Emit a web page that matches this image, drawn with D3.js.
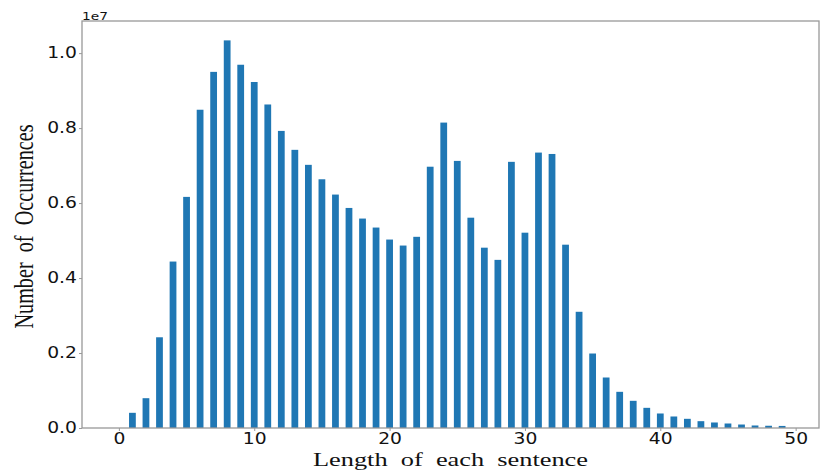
<!DOCTYPE html>
<html>
<head>
<meta charset="utf-8">
<script src="https://cdn.jsdelivr.net/npm/d3@7"></script>
<style>
  html, body { margin: 0; padding: 0; background: #fff; }
  svg { display: block; }
</style>
</head>
<body>
<div id="chart"></div>
<script>
// sentence length (words) and how often it occurs
const lengths = [0, 1, 2, 3, 4, 5, 6, 7, 8, 9, 10, 11, 12, 13, 14, 15, 16, 17, 18, 19,
  20, 21, 22, 23, 24, 25, 26, 27, 28, 29, 30, 31, 32, 33, 34, 35, 36, 37, 38, 39,
  40, 41, 42, 43, 44, 45, 46, 47, 48, 49];
const occurrences = [0, 405000, 795000, 2420000, 4440000, 6165000, 8490000, 9500000, 10340000, 9690000,
  9230000, 8630000, 7925000, 7420000, 7020000, 6635000, 6227000, 5870000, 5587000, 5347000,
  5027000, 4867000, 5100000, 6970000, 8147000, 7125000, 5610000, 4810000, 4485000, 7100000,
  5210000, 7347000, 7310000, 4890000, 3100000, 1987000, 1347000, 965000, 725000, 538000,
  387000, 307000, 245000, 182000, 147000, 120000, 93000, 67000, 60000, 55000];
const xTicks = [0, 10, 20, 30, 40, 50];
const yTicks = [0.0, 0.2, 0.4, 0.6, 0.8, 1.0]; // in units of 1e7

const W = 825, H = 476;
const mLeft = 82, mRight = 819, mTop = 21, mBottom = 428;
const barW = 0.5;
const stretch = 1.25; // the picture is wider than it is tall

const svg = d3.select("#chart").append("svg")
  .attr("width", W).attr("height", H);

// matplotlib style 5% margins
const xmin = d3.min(lengths) - barW / 2, xmax = d3.max(lengths) + barW / 2;
const xpad = (xmax - xmin) * 0.05;
const x = d3.scaleLinear().domain([xmin - xpad, xmax + xpad]).range([mLeft, mRight]);
const y = d3.scaleLinear().domain([0, d3.max(occurrences) * 1.05]).range([mBottom, mTop]);

svg.append("g")
  .selectAll("rect")
  .data(lengths)
  .enter()
  .append("rect")
  .attr("x", (d) => x(d - barW / 2))
  .attr("width", (d) => x(d + barW / 2) - x(d - barW / 2))
  .attr("y", (d, i) => y(occurrences[i]))
  .attr("height", (d, i) => y(0) - y(occurrences[i]))
  .attr("fill", "#1f77b4");

// axes
const xAxis = svg.append("g")
  .attr("transform", `translate(0,${mBottom})`)
  .call(d3.axisBottom(x).tickValues(xTicks).tickSize(3).tickPadding(2).tickFormat(d3.format("d")));

const yAxis = svg.append("g")
  .attr("transform", `translate(${mLeft},0)`)
  .call(d3.axisLeft(y).tickValues(yTicks.map(v => v * 1e7)).tickSize(3).tickPadding(1)
    .tickFormat(v => d3.format(".1f")(v / 1e7)));

[xAxis, yAxis].forEach(g => {
  g.select(".domain").remove();
  g.selectAll(".tick line").attr("stroke", "#999");
  g.selectAll(".tick text")
    .attr("font-family", "DejaVu Sans")
    .attr("font-size", 15)
    .attr("fill", "#111");
});
xAxis.selectAll(".tick text").attr("transform", `scale(${stretch},1)`);
yAxis.selectAll(".tick text").attr("transform", `scale(${stretch},1)`);

// frame
svg.append("rect")
  .attr("x", mLeft).attr("y", mTop)
  .attr("width", mRight - mLeft).attr("height", mBottom - mTop)
  .attr("fill", "none")
  .attr("stroke", "#999")
  .attr("stroke-width", 1.3);

// offset text
svg.append("text")
  .attr("transform", `translate(${mLeft},19.5) scale(${stretch},1)`)
  .attr("font-family", "DejaVu Sans")
  .attr("font-size", 11)
  .attr("fill", "#111")
  .text("1e7");

// axis titles
svg.append("text")
  .attr("x", (mLeft + mRight) / 2)
  .attr("y", 466)
  .attr("text-anchor", "middle")
  .attr("font-family", "Liberation Serif")
  .attr("font-size", 19)
  .attr("textLength", 275)
  .attr("lengthAdjust", "spacingAndGlyphs")
  .style("white-space", "pre")
  .attr("fill", "#111")
  .text("Length  of  each  sentence");

svg.append("text")
  .attr("transform", `translate(33,${(mTop + mBottom) / 2 + 2}) rotate(-90)`)
  .attr("text-anchor", "middle")
  .attr("font-family", "Liberation Serif")
  .attr("font-size", 27)
  .attr("textLength", 204)
  .attr("lengthAdjust", "spacingAndGlyphs")
  .style("white-space", "pre")
  .attr("fill", "#111")
  .text("Number  of  Occurrences");
</script>
</body>
</html>
